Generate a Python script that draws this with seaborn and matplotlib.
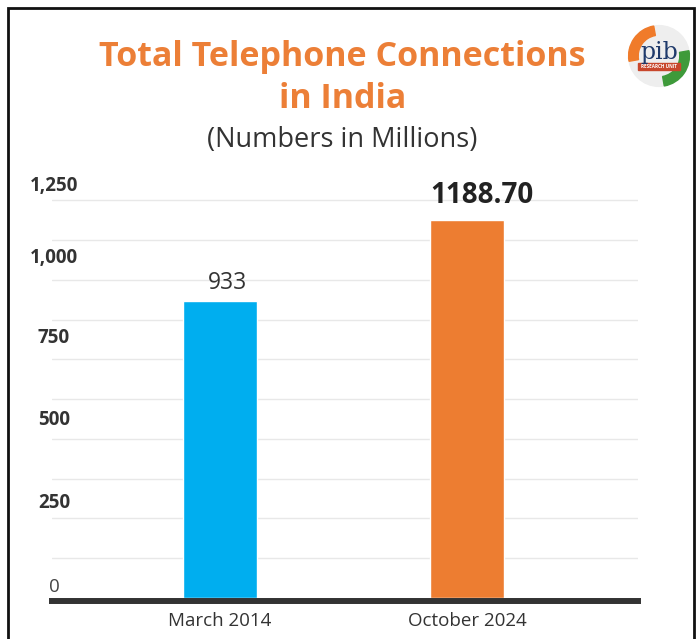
import matplotlib
matplotlib.use("Agg")
import matplotlib.pyplot as plt
import matplotlib.transforms as mtransforms
from matplotlib.patches import Rectangle, Circle, Wedge
import seaborn as sns
import pandas as pd

categories = ["March 2014", "October 2024"]
values = [933, 1188.70]
value_labels = ["933", "1188.70"]
bar_colors = ["#00AEEF", "#ED7D31"]
ytick_values = [0, 250, 500, 750, 1000, 1250]
ytick_labels = ["0", "250", "500", "750", "1,000", "1,250"]
title = "Total Telephone Connections\nin India"
subtitle = "(Numbers in Millions)"

sns.set_theme(style="white")
plt.rcParams['font.family'] = ['Open Sans', 'DejaVu Sans']

fig = plt.figure(figsize=(6.97, 6.39), dpi=100)
ax = fig.add_axes([52/697, 41/639, (638-52)/697, 401/639])

df = pd.DataFrame({"cat": categories, "val": values})
sns.barplot(data=df, x="cat", y="val", hue="cat", palette=bar_colors,
            width=0.3, legend=False, ax=ax, saturation=1)

ax.set_xlim(-0.68, 1.69)
ax.set_ylim(0, 1260)
ax.set_xlabel("")
ax.set_ylabel("")

# gridlines every 125
for g in range(125, 1251, 125):
    ax.axhline(g, color="#e8e8e8", lw=1, zorder=0)

for s in ["top", "right", "left"]:
    ax.spines[s].set_visible(False)
ax.spines["bottom"].set_color("#333333")
ax.spines["bottom"].set_linewidth(4.3)
ax.spines["bottom"].set_position(("outward", 2.2))
ax.spines["bottom"].set_zorder(5)

ax.set_yticks(ytick_values)
ax.set_yticklabels(ytick_labels)
ax.tick_params(axis="y", length=0, pad=0)
ax.tick_params(axis="x", length=0, pad=8, labelsize=13.5, labelcolor="#333333")
offsets = [13, 18, 21, 24, 24.5, 17]
for lab, off, val in zip(ax.get_yticklabels(), offsets, ytick_values):
    lab.set_transform(lab.get_transform() + mtransforms.ScaledTranslation(2/100, off/100, fig.dpi_scale_trans))
    lab.set_horizontalalignment("center")
    lab.set_fontsize(13.5)
    lab.set_color("#333333" if val else "#444444")
    lab.set_fontweight("normal" if val == 0 else "bold")

# value labels
bars = ax.patches
for i, (p, t) in enumerate(zip(bars, value_labels)):
    h = p.get_height()
    if i == 0:
        x = p.get_x() + p.get_width()/2
        ax.text(x, h + 18, t, ha="center", va="bottom", fontsize=16.5, color="#333333",
                transform=ax.transData + mtransforms.ScaledTranslation(7/100, 0, fig.dpi_scale_trans))
    else:
        x = p.get_x()
        ax.text(x, h + 30, t, ha="left", va="bottom", fontsize=20, fontweight="bold", color="#222222")

# titles
fig.text(0.491, 1 - 78/639, title, ha="center", va="center", fontsize=24.5,
         fontweight="bold", color="#EC7F37", linespacing=1.3)
fig.text(0.491, 1 - 140/639, subtitle, ha="center", va="center", fontsize=19.5, color="#333333")

# frame
fig.patches.append(Rectangle((8/697, -0.1), (694-8)/697, 1.1 - 8/639, transform=fig.transFigure,
                             fill=False, edgecolor="#111111", lw=2))

# simple logo
lax = fig.add_axes([627/697, 1 - 88/639, 64/697, 64/639])
lax.set_xlim(-1, 1); lax.set_ylim(-1, 1); lax.set_aspect("equal"); lax.axis("off")
lax.add_patch(Circle((0, 0), 0.95, color="#eeeeee"))
lax.add_patch(Wedge((0, 0), 0.95, 100, 190, width=0.3, color="#F07B2A"))
lax.add_patch(Wedge((0, 0), 0.95, 280, 10, width=0.3, color="#3E9A3A"))
lax.text(0, 0.12, "pib", ha="center", va="center", fontsize=17, color="#1F3A6B", family="DejaVu Serif")
lax.add_patch(Rectangle((-0.65, -0.45), 1.3, 0.22, color="#C8472C"))
lax.text(0, -0.34, "RESEARCH UNIT", ha="center", va="center", fontsize=3.3, color="white", fontweight="bold")

fig.savefig("out.png", dpi=100)
